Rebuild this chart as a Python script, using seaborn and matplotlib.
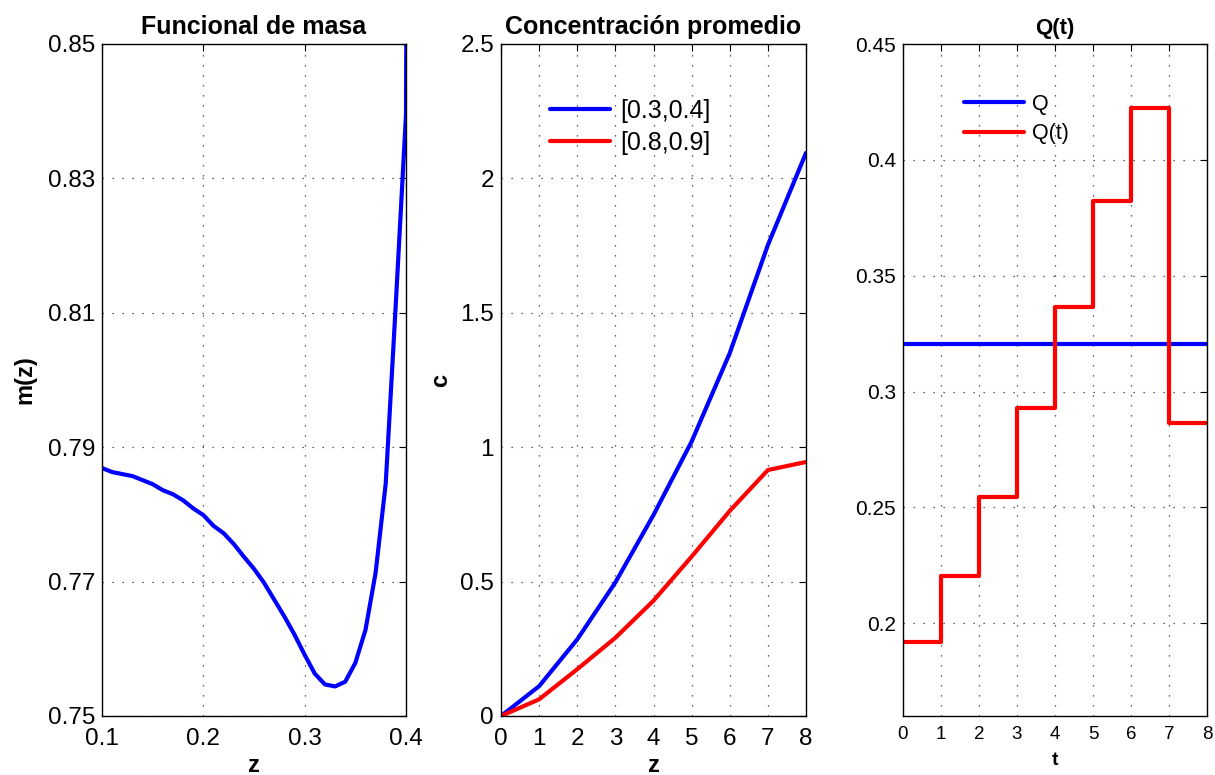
import numpy as np
import pandas as pd
import matplotlib
matplotlib.use("Agg")
import matplotlib.pyplot as plt
import seaborn as sns

# ---------------- data ----------------
# Panel 1: mass functional m(z)
z_mass = [0.10, 0.11, 0.12, 0.13, 0.14, 0.15, 0.16, 0.17, 0.18, 0.19, 0.20,
          0.21, 0.22, 0.23, 0.24, 0.25, 0.26, 0.27, 0.28, 0.29, 0.30,
          0.31, 0.32, 0.33, 0.34, 0.35, 0.36, 0.37, 0.38, 0.39, 0.40, 0.41]
m_mass = [0.7869, 0.7863, 0.7860, 0.7857, 0.7851, 0.7845, 0.7836, 0.7830, 0.7821, 0.7809, 0.7799,
          0.7783, 0.7772, 0.7756, 0.7737, 0.7719, 0.7698, 0.7673, 0.7648, 0.7621, 0.7591,
          0.7563, 0.7547, 0.7544, 0.7551, 0.7579, 0.7628, 0.7713, 0.7846, 0.8115, 0.8395, 1.2000]

# Panel 2: average concentration
z_conc = [0, 1, 2, 3, 4, 5, 6, 7, 8]
c_03_04 = [0.0, 0.111, 0.285, 0.497, 0.748, 1.021, 1.350, 1.752, 2.095]
c_08_09 = [0.0, 0.062, 0.174, 0.291, 0.429, 0.593, 0.763, 0.915, 0.945]
conc_labels = ["[0.3,0.4]", "[0.8,0.9]"]

# Panel 3: Q(t)
t_vals = [0, 1, 2, 3, 4, 5, 6, 7, 8]
Q_t = [0.1920, 0.2205, 0.2545, 0.2928, 0.3366, 0.3822, 0.4225, 0.2866, 0.2866]
t_const = [0, 8]
Q_const = [0.3206, 0.3206]
q_labels = ["Q", "Q(t)"]

# ---------------- style ----------------
sns.set_theme(style="white")
plt.rcParams["font.family"] = ["Liberation Sans", "DejaVu Sans"]
plt.rcParams.update({
    "text.color": "black", "axes.labelcolor": "black",
    "xtick.color": "black", "ytick.color": "black",
    "xtick.direction": "in", "ytick.direction": "in",
    "xtick.top": True, "ytick.right": True,
    "xtick.major.size": 5, "ytick.major.size": 5,
    "xtick.major.width": 0.8, "ytick.major.width": 0.8,
    "axes.edgecolor": "black", "axes.linewidth": 1.0,
})

fig = plt.figure(figsize=(12.15, 7.75), dpi=100)
W, H = 1215, 775
def add_ax(l, r, t=44, b=716):
    return fig.add_axes([l / W, 1 - b / H, (r - l) / W, (b - t) / H])

ax1 = add_ax(102, 406)
ax2 = add_ax(501, 806)
ax3 = add_ax(903, 1207)

BLUE = "#0000FF"
RED = "#FF0000"
LW = 3.0
grid_kw = dict(color="#303030", linestyle=(0, (1, 7)), linewidth=0.9)

def style_ax(ax, tsize):
    ax.grid(True, **grid_kw)
    ax.tick_params(axis="both", labelsize=tsize, colors="black", labelcolor="black", pad=5)
    ax.tick_params(axis="x", pad=8.5)
    for s in ax.spines.values():
        s.set_color("black")
        s.set_visible(True)

# Panel 1
df1 = pd.DataFrame({"z": z_mass, "m": m_mass})
sns.lineplot(data=df1, x="z", y="m", ax=ax1, color=BLUE, linewidth=LW)
ax1.set_xlim(0.1, 0.4)
ax1.set_ylim(0.75, 0.85)
ax1.set_xticks([0.1, 0.2, 0.3, 0.4])
ax1.set_xticklabels(["0.1", "0.2", "0.3", "0.4"])
ax1.set_yticks([0.75, 0.77, 0.79, 0.81, 0.83, 0.85])
ax1.set_yticklabels(["0.75", "0.77", "0.79", "0.81", "0.83", "0.85"])
style_ax(ax1, 17.5)
ax1.set_title("Funcional de masa", fontsize=18, fontweight="bold", pad=7)
ax1.set_xlabel("z", fontsize=17, fontweight="bold", labelpad=3)
ax1.set_ylabel("m(z)", fontsize=17, fontweight="bold", labelpad=8)

# Panel 2
df2 = pd.DataFrame({
    "z": z_conc * 2,
    "c": c_03_04 + c_08_09,
    "serie": [conc_labels[0]] * len(z_conc) + [conc_labels[1]] * len(z_conc),
})
sns.lineplot(data=df2, x="z", y="c", hue="serie", palette=[BLUE, RED],
             ax=ax2, linewidth=LW)
ax2.set_xlim(0, 8)
ax2.set_ylim(0, 2.5)
ax2.set_xticks(range(0, 9))
ax2.set_yticks([0, 0.5, 1, 1.5, 2, 2.5])
ax2.set_yticklabels(["0", "0.5", "1", "1.5", "2", "2.5"])
style_ax(ax2, 17.5)
ax2.set_title("Concentración promedio", fontsize=18, fontweight="bold", pad=7)
ax2.set_xlabel("z", fontsize=17, fontweight="bold", labelpad=3)
ax2.set_ylabel("c", fontsize=17, fontweight="bold", labelpad=6)
leg2 = ax2.legend(loc="upper left", bbox_to_anchor=(0.088, 0.952), frameon=False,
                  fontsize=18, handlelength=2.4, handletextpad=0.4, labelspacing=0.33)
for h in leg2.get_lines():
    h.set_linewidth(LW)

# Panel 3
df3a = pd.DataFrame({"t": t_const, "Q": Q_const})
df3b = pd.DataFrame({"t": t_vals, "Q": Q_t})
sns.lineplot(data=df3a, x="t", y="Q", ax=ax3, color=BLUE, linewidth=LW, label=q_labels[0])
sns.lineplot(data=df3b, x="t", y="Q", ax=ax3, color=RED, linewidth=LW,
             drawstyle="steps-post", label=q_labels[1])
ax3.set_xlim(0, 8)
ax3.set_ylim(0.16, 0.45)
ax3.set_xticks(range(0, 9))
ax3.set_yticks([0.2, 0.25, 0.3, 0.35, 0.4, 0.45])
ax3.set_yticklabels(["0.2", "0.25", "0.3", "0.35", "0.4", "0.45"])
style_ax(ax3, 15)
ax3.tick_params(axis="x", labelsize=13.5, pad=7)
ax3.set_title("Q(t)", fontsize=16, fontweight="bold", pad=7)
ax3.set_xlabel("t", fontsize=14, fontweight="bold", labelpad=7)
ax3.set_ylabel("")
leg3 = ax3.legend(loc="upper left", bbox_to_anchor=(0.137, 0.955), frameon=False,
                  fontsize=15.5, handlelength=2.77, handletextpad=0.4, labelspacing=0.4)
for h in leg3.get_lines():
    h.set_linewidth(LW)

fig.savefig("out.png", dpi=100)
